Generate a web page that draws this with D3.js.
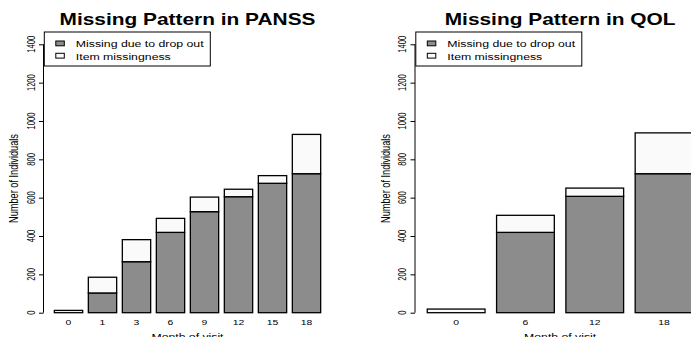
<!DOCTYPE html>
<html>
<head>
<meta charset="utf-8">
<script src="https://cdn.jsdelivr.net/npm/d3@7"></script>
<style>
  body { margin: 0; background: #fff; }
  svg { display: block; }
  text { font-family: "Liberation Sans", Arial, Helvetica, sans-serif; fill: #000; }
</style>
</head>
<body>
<div id="chart"></div>
<script>
// PANSS data
let panssMonths = ["0", "1", "3", "6", "9", "12", "15", "18"]
let panssDropout = [0, 103, 266, 419, 527, 605, 675, 725]
let panssItem = [12, 82, 115, 73, 76, 39, 40, 205]

// QOL data
let qolMonths = ["0", "6", "12", "18"]
let qolDropout = [0, 419, 607, 725]
let qolItem = [19, 89, 43, 213]

let yTicks = [0, 200, 400, 600, 800, 1000, 1200, 1400]
let legendLabels = ["Missing due to drop out", "Item missingness"]

let W = 691, H = 337
let SX = 1.33 // picture is stretched horizontally
let colDrop = "#8c8c8c", colItem = "#fafafa"

let svg = d3.select("#chart").append("svg")
    .attr("width", W)
    .attr("height", H)

let y = d3.scaleLinear().domain([0, 1400]).range([312.7, 44.3])

function panel(opts) {
    let g = svg.append("g")
    let x = d3.scaleBand()
        .domain(opts.months)
        .range(opts.range)
        .paddingInner(0.2 / 1.2)
        .paddingOuter(0.1 / 1.2)

    let rows = opts.months.map((m, i) => ({ month: m, dropout: opts.dropout[i], item: opts.item[i] }))
    let series = d3.stack().keys(["dropout", "item"])(rows)
    let color = d3.scaleOrdinal().domain(["dropout", "item"]).range([colDrop, colItem])

    g.selectAll("g.layer")
        .data(series)
        .join("g")
        .attr("class", "layer")
        .attr("fill", d => color(d.key))
        .selectAll("rect")
        .data(d => d)
        .join("rect")
        .attr("x", d => x(d.data.month))
        .attr("y", d => y(d[1]))
        .attr("width", x.bandwidth())
        .attr("height", d => y(d[0]) - y(d[1]))
        .attr("stroke", "#000")
        .attr("stroke-width", 1.3)

    // y axis
    let ax = g.append("g")
        .attr("transform", `translate(${opts.axisX},0)`)
        .call(d3.axisLeft(y).tickValues(yTicks).tickSize(4.5).tickFormat(""))
    ax.select(".domain").attr("d", `M0,${y(0)}V${y(1400)}`).attr("stroke", "#000")
    ax.selectAll(".tick line").attr("stroke", "#000")

    g.selectAll("text.ytick")
        .data(yTicks)
        .join("text")
        .attr("class", "ytick")
        .attr("transform", d => `translate(${opts.axisX - 9},${y(d)}) scale(${SX},1) rotate(-90)`)
        .attr("text-anchor", "middle")
        .attr("font-size", 7.6)
        .text(d => d)

    g.append("text")
        .attr("transform", `translate(${opts.axisX - 25.5},${(y(0) + y(1400)) / 2}) scale(${SX},1) rotate(-90)`)
        .attr("text-anchor", "middle")
        .attr("font-size", 9.2)
        .text("Number of Individuals")

    // x labels
    g.selectAll("text.xtick")
        .data(opts.months)
        .join("text")
        .attr("class", "xtick")
        .attr("transform", d => `translate(${x(d) + x.bandwidth() / 2},324.5) scale(${SX},1)`)
        .attr("text-anchor", "middle")
        .attr("font-size", 7.8)
        .text(d => d)

    let cx = (opts.range[0] + opts.range[1]) / 2
    g.append("text")
        .attr("transform", `translate(${cx},339.5) scale(${SX},1)`)
        .attr("text-anchor", "middle")
        .attr("font-size", 9.2)
        .text("Month of visit")

    g.append("text")
        .attr("transform", `translate(${cx},25) scale(${SX},1)`)
        .attr("text-anchor", "middle")
        .attr("font-size", 15.7)
        .attr("font-weight", "bold")
        .text(opts.title)

    // legend
    let lg = g.append("g").attr("transform", `translate(${opts.axisX + 0.8},32)`)
    lg.append("rect")
        .attr("x", 0).attr("y", 0)
        .attr("width", 166).attr("height", 34)
        .attr("fill", "#fff")
        .attr("stroke", "#000")
        .attr("stroke-width", 1)
    legendLabels.forEach((lab, i) => {
        lg.append("rect")
            .attr("x", 11.5).attr("y", 9 + i * 12.3)
            .attr("width", 8.5).attr("height", 4.8)
            .attr("fill", i == 0 ? colDrop : colItem)
            .attr("stroke", "#000")
            .attr("stroke-width", 1)
        lg.append("text")
            .attr("transform", `translate(31.5,${15.3 + i * 12.4}) scale(${SX},1)`)
            .attr("font-size", 9.26)
            .text(lab)
    })
}

panel({
    title: "Missing Pattern in PANSS",
    months: panssMonths,
    dropout: panssDropout,
    item: panssItem,
    range: [51.5, 323.5],
    axisX: 43.5
})

panel({
    title: "Missing Pattern in QOL",
    months: qolMonths,
    dropout: qolDropout,
    item: qolItem,
    range: [421.5, 698.7],
    axisX: 415
})
</script>
</body>
</html>
